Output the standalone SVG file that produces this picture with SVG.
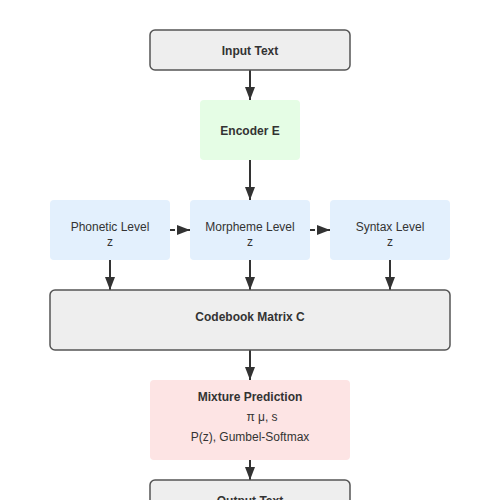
<svg xmlns="http://www.w3.org/2000/svg" width="500" height="500" viewBox="0 0 500 500">
<style>
text{font-family:"Liberation Sans",Arial,sans-serif;font-size:12px;fill:#333;text-anchor:middle}
.b{font-weight:bold}
.grey{fill:#eeeeee;stroke:#555;stroke-width:1.5}
.green{fill:#e5fde5}
.blue{fill:#e3f0fd}
.pink{fill:#fde4e4}
.c{stroke:#333;stroke-width:2;fill:none;marker-end:url(#ah)}
.d{stroke-dasharray:5,3}
</style>
<defs>
<marker id="ah" markerUnits="userSpaceOnUse" markerWidth="13" markerHeight="10" refX="13" refY="5" orient="auto">
<path d="M0,0 L13,5 L0,10 z" fill="#333"/>
</marker>
</defs>
<rect width="500" height="500" fill="#fff"/>
<g id="connectors">
<line class="c" x1="250" y1="70" x2="250" y2="100"/>
<line class="c" x1="250" y1="160" x2="250" y2="200"/>
<line class="c d" x1="170" y1="230" x2="190" y2="230"/>
<line class="c d" x1="310" y1="230" x2="330" y2="230"/>
<line class="c" x1="110" y1="260" x2="110" y2="290"/>
<line class="c" x1="250" y1="260" x2="250" y2="290"/>
<line class="c" x1="390" y1="260" x2="390" y2="290"/>
<line class="c" x1="250" y1="350" x2="250" y2="380"/>
<line class="c" x1="250" y1="460" x2="250" y2="480"/>
</g>
<g id="input"><rect class="grey" x="150" y="30" width="200" height="40" rx="5"/><text class="b" x="250" y="55">Input Text</text></g>
<g id="encoder"><rect class="green" x="200" y="100" width="100" height="60" rx="4"/><text class="b" x="250" y="135">Encoder E</text></g>
<g id="phonetic"><rect class="blue" x="50" y="200" width="120" height="60" rx="4"/><text x="110" y="230.5">Phonetic Level</text><text x="110" y="245.5">z</text></g>
<g id="morpheme"><rect class="blue" x="190" y="200" width="120" height="60" rx="4"/><text x="250" y="230.5">Morpheme Level</text><text x="250" y="245.5">z</text></g>
<g id="syntax"><rect class="blue" x="330" y="200" width="120" height="60" rx="4"/><text x="390" y="230.5">Syntax Level</text><text x="390" y="245.5">z</text></g>
<g id="codebook"><rect class="grey" x="50" y="290" width="400" height="60" rx="5"/><text class="b" x="250" y="320.5">Codebook Matrix C</text></g>
<g id="mixture"><rect class="pink" x="150" y="380" width="200" height="80" rx="4"/><text class="b" x="250" y="400.5">Mixture Prediction</text><text x="262" y="420.5">π μ, s</text><text x="250" y="440.5">P(z), Gumbel-Softmax</text></g>
<g id="output"><rect class="grey" x="150" y="480" width="200" height="40" rx="5"/><text class="b" x="250" y="505">Output Text</text></g>
</svg>
